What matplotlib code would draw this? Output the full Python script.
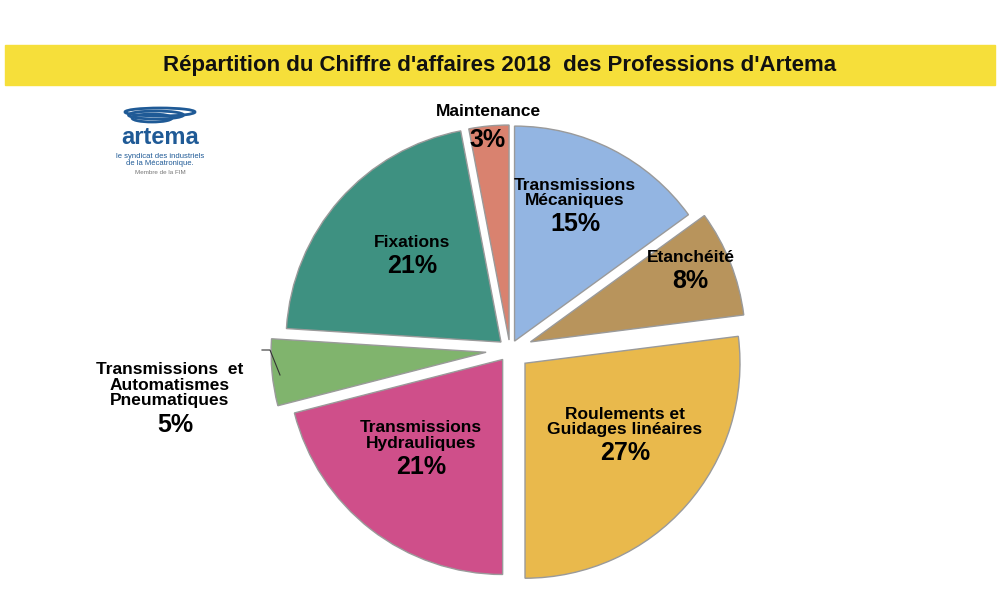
import matplotlib
matplotlib.use("Agg")
import matplotlib.pyplot as plt
import numpy as np

plt.rcParams["font.family"] = "Liberation Sans"

categories = ["Transmissions\nMécaniques", "Etanchéité", "Roulements et\nGuidages linéaires",
              "Transmissions\nHydrauliques", "Transmissions  et\nAutomatismes\nPneumatiques",
              "Fixations", "Maintenance"]
values = [15, 8, 27, 21, 5, 21, 3]
colors = ["#93b5e2", "#b8945c", "#e9b94c", "#cf4f8a", "#80b46d", "#3e9181", "#d9826f"]
title = "Répartition du Chiffre d'affaires 2018  des Professions d'Artema"

fig = plt.figure(figsize=(10, 6), dpi=100)
ax = fig.add_axes([0, 0, 1, 1])
ax.set_xlim(0, 1000); ax.set_ylim(0, 600); ax.set_aspect("equal"); ax.axis("off")

ax.add_patch(plt.Rectangle((5, 515), 990, 40, color="#f6df3a", zorder=0))
ax.text(500, 535, title, ha="center", va="center", fontsize=16, fontweight="bold", color="#111")

ax.text(160, 462, "artema", ha="center", va="center", fontsize=17, fontweight="bold", color="#1f5a96")
ax.text(160, 440, "le syndicat des industriels\nde la Mécatronique.", ha="center", va="center",
        fontsize=5.5, color="#1f5a96", linespacing=0.9)
ax.text(160, 428, "Membre de la FIM", ha="center", va="center", fontsize=4.5, color="#777")
for i, w in enumerate([70, 55, 40]):
    ax.add_patch(matplotlib.patches.Ellipse((160 - i * 4, 488 - i * 3), w, 8, fill=False,
                                            ec="#1f5a96", lw=2))

cx, cy, R = 510, 250, 215
wedges, _ = ax.pie(values, colors=colors, startangle=90, counterclock=False, center=(cx, cy),
                   radius=R, explode=[10, 22, 20, 12, 24, 12, 10],
                   wedgeprops=dict(edgecolor="#9a9a9a", linewidth=1.0))
ax.set_xlim(0, 1000); ax.set_ylim(0, 600)

for i, w in enumerate(wedges):
    ang = np.deg2rad((w.theta1 + w.theta2) / 2)
    x0, y0 = w.center
    if i == 4:
        ax.text(170, 215, categories[i], ha="center", va="center", fontsize=12.5, fontweight="bold",
                linespacing=1.05)
        ax.text(175, 175, f"{values[i]}%", ha="center", va="center", fontsize=18, fontweight="bold")
        ax.plot([262, 270, 280], [250, 250, 225], color="#333", lw=0.8)
        continue
    if i == 6:
        ax.text(488, 488, "Maintenance", ha="center", va="center", fontsize=12.5, fontweight="bold")
        ax.text(488, 460, "3%", ha="center", va="center", fontsize=18, fontweight="bold")
        continue
    f = [0.62, 0.8, 0.62, 0.62, 0, 0.55][i]
    x = x0 + f * R * np.cos(ang); y = y0 + f * R * np.sin(ang)
    ax.text(x, y + 14, categories[i], ha="center", va="bottom", fontsize=12.5, fontweight="bold",
            linespacing=1.05)
    ax.text(x, y + 10, f"{values[i]}%", ha="center", va="top", fontsize=18, fontweight="bold")

fig.savefig("out.png", dpi=100, facecolor="white")
